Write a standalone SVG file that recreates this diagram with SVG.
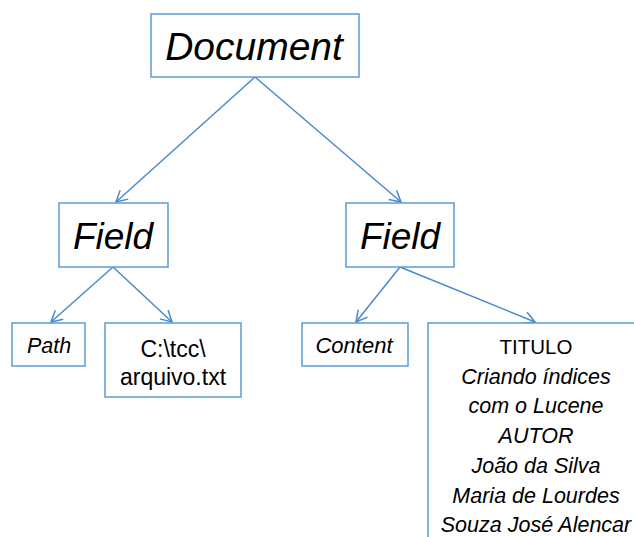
<svg xmlns="http://www.w3.org/2000/svg" width="634" height="537" viewBox="0 0 634 537">
<style>
.box{fill:#fff;stroke:#5b9bd5;stroke-width:1.5}
.t{font-family:"Liberation Sans","Open Sans",sans-serif;fill:#000;text-anchor:middle}
.i{font-style:italic}
.edge{stroke:#4a89cc;stroke-width:1.5;fill:none;marker-end:url(#arr)}
</style>
<defs>
<marker id="arr" markerUnits="userSpaceOnUse" markerWidth="16" markerHeight="16" refX="12" refY="7" orient="auto" viewBox="0 0 16 14">
<path d="M1,1 L12,7 L1,13" fill="none" stroke="#4a89cc" stroke-width="1.5"/>
</marker>
</defs>
<g id="connectors">
<line class="edge" x1="255" y1="77" x2="116" y2="202"/>
<line class="edge" x1="255" y1="77" x2="401" y2="202"/>
<line class="edge" x1="113" y1="267" x2="51" y2="322"/>
<line class="edge" x1="113" y1="267" x2="172" y2="322"/>
<line class="edge" x1="400" y1="267" x2="356" y2="322"/>
<line class="edge" x1="400" y1="267" x2="535" y2="322"/>
</g>
<g id="document">
<rect class="box" x="151" y="14" width="208" height="63"/>
<text class="t i" x="254" y="60" font-size="39">Document</text>
</g>
<g id="field1">
<rect class="box" x="59" y="203" width="109" height="64"/>
<text class="t i" x="113" y="249" font-size="37">Field</text>
</g>
<g id="field2">
<rect class="box" x="346" y="203" width="108" height="64"/>
<text class="t i" x="400" y="249" font-size="37">Field</text>
</g>
<g id="path">
<rect class="box" x="12" y="323" width="73" height="43"/>
<text class="t i" x="49" y="353" font-size="21.5">Path</text>
</g>
<g id="pathvalue">
<rect class="box" x="105" y="323" width="136" height="74"/>
<text class="t" x="173" y="357" font-size="23">C:\tcc\</text>
<text class="t" x="173" y="385" font-size="23">arquivo.txt</text>
</g>
<g id="content">
<rect class="box" x="302" y="323" width="106" height="43"/>
<text class="t i" x="354" y="353" font-size="22">Content</text>
</g>
<g id="contentvalue">
<rect class="box" x="428" y="323" width="220" height="230"/>
<text class="t" x="536" y="354" font-size="20.5">TITULO</text>
<text class="t i" x="536" y="384" font-size="21.5">Criando índices</text>
<text class="t i" x="536" y="413" font-size="21.5">com o Lucene</text>
<text class="t i" x="536" y="443" font-size="21.5">AUTOR</text>
<text class="t i" x="536" y="473" font-size="21.5">João da Silva</text>
<text class="t i" x="536" y="503" font-size="21.5">Maria de Lourdes</text>
<text class="t i" x="536" y="532" font-size="21.5">Souza José Alencar</text>
</g>
</svg>
